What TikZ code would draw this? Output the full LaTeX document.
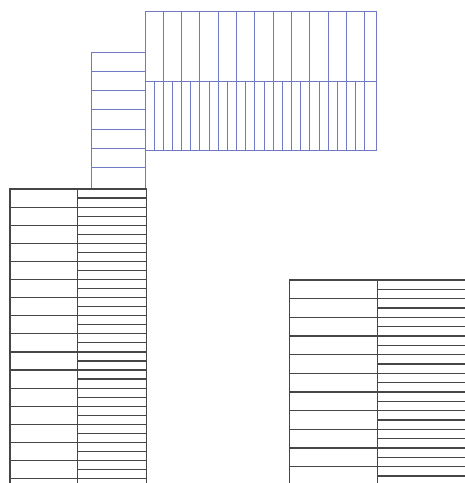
\documentclass[tikz,border=0pt]{standalone}
\usepackage{tikz}

\definecolor{planblue}{RGB}{112,122,196}
\definecolor{plangray}{RGB}{70,70,70}

\begin{document}
\begin{tikzpicture}[
    x=1pt, y=-1pt,
    upper/.style={draw=planblue, line width=1pt},
    lower/.style={draw=plangray, line width=1.2pt}
]
\useasboundingbox (0,0) rectangle (465,483);

% --- Blue stair column, left of the top block
\draw [upper] (91,189) -- (91,52) -- (145,52) -- (145,189);
\foreach \k in {1,...,6}
    \draw [upper] (91,{52+19.3*\k}) -- (145,{52+19.3*\k});

% --- Blue top block: wide cells above, narrow cells below
\draw [upper] (145,11) rectangle (376,150);
\draw [upper] (145,81) -- (376,81);
\foreach \k in {1,...,12}
    \draw [upper] ({145+18.33*\k},11) -- ({145+18.33*\k},81);
\foreach \k in {1,...,24}
    \draw [upper] ({145+9.165*\k},81) -- ({145+9.165*\k},150);

% --- Left black block (runs off the bottom)
\draw [lower] (10,483) -- (10,189) -- (146.7,189) -- (146.7,483);
\draw [lower] (77.7,189) -- (77.7,483);
\foreach \k in {1,...,16}
    \draw [lower] (10,{189+18.1*\k}) -- (77.7,{189+18.1*\k});
\foreach \k in {1,...,32}
    \draw [lower] (77.7,{189+9.05*\k}) -- (146.7,{189+9.05*\k});

% --- Right black block (runs off the right and the bottom)
\draw [lower] (289.3,483) -- (289.3,280) -- (465,280);
\draw [lower] (377.7,280) -- (377.7,483);
\foreach \k in {1,...,10}
    \draw [lower] (289.3,{280+18.67*\k}) -- (377.7,{280+18.67*\k});
\foreach \k in {1,...,21}
    \draw [lower] (377.7,{280+9.33*\k}) -- (465,{280+9.33*\k});

\end{tikzpicture}
\end{document}
